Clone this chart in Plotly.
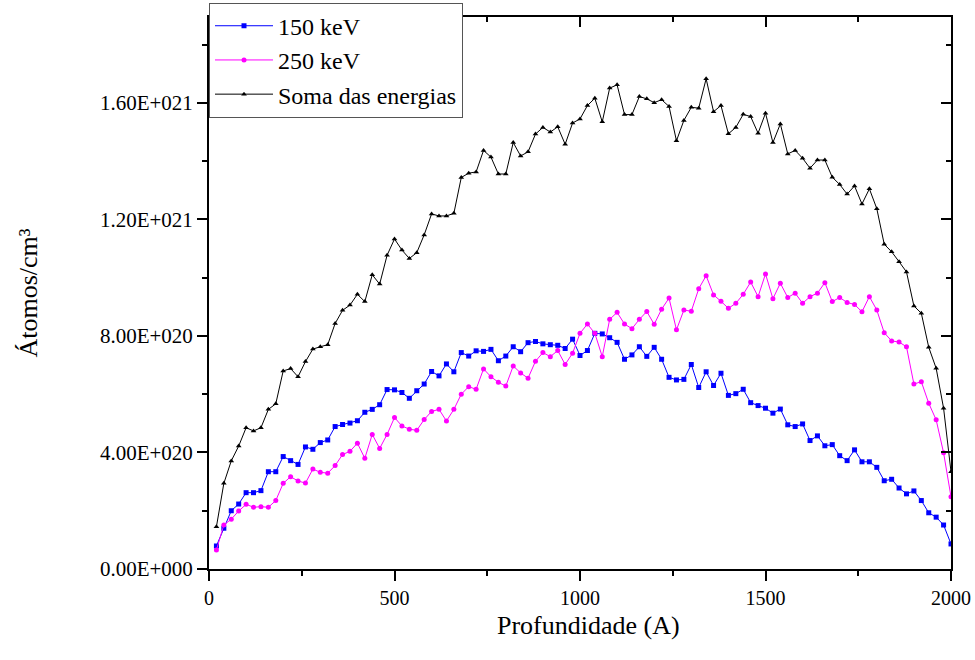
import numpy as np
import plotly.graph_objects as go

# Depth (Angstrom): 20..2000 step 20
depth = list(range(20, 2001, 20))

# values in units of 1E+020 atoms/cm^3
kev150 = [0.79, 1.40, 2.00, 2.23, 2.62, 2.62, 2.69, 3.34, 3.34, 3.86,
          3.72, 3.59, 4.19, 4.11, 4.34, 4.43, 4.89, 4.96, 5.01, 5.09,
          5.38, 5.48, 5.64, 6.16, 6.15, 6.06, 5.86, 6.12, 6.35, 6.78,
          6.63, 7.04, 6.77, 7.43, 7.31, 7.49, 7.47, 7.54, 7.15, 7.31,
          7.63, 7.46, 7.77, 7.81, 7.73, 7.70, 7.68, 7.57, 7.89, 7.33,
          7.50, 8.09, 8.07, 7.94, 7.78, 7.20, 7.35, 7.63, 7.30, 7.61,
          7.20, 6.58, 6.49, 6.51, 7.02, 6.23, 6.77, 6.30, 6.72, 5.96,
          6.02, 6.17, 5.71, 5.61, 5.52, 5.35, 5.49, 4.95, 4.89, 4.98,
          4.41, 4.57, 4.23, 4.27, 3.89, 3.72, 4.09, 3.68, 3.68, 3.49,
          3.03, 3.08, 2.78, 2.58, 2.68, 2.35, 1.93, 1.78, 1.51, 0.86]

kev250 = [0.65, 1.51, 1.71, 1.99, 2.22, 2.12, 2.14, 2.12, 2.35, 2.94,
          3.17, 3.02, 2.95, 3.43, 3.32, 3.29, 3.55, 3.93, 4.04, 4.32,
          3.80, 4.62, 4.14, 4.62, 5.20, 4.91, 4.80, 4.76, 5.13, 5.41,
          5.48, 5.08, 5.48, 6.00, 6.26, 6.17, 6.87, 6.60, 6.41, 6.28,
          6.97, 6.73, 6.55, 7.13, 7.43, 7.29, 7.50, 7.02, 7.41, 8.09,
          8.41, 8.09, 7.29, 8.57, 8.81, 8.41, 8.25, 8.57, 8.84, 8.40,
          8.92, 9.30, 8.21, 8.89, 8.85, 9.62, 10.07, 9.41, 9.19, 8.95,
          9.12, 9.43, 9.85, 9.35, 10.13, 9.28, 9.81, 9.32, 9.47, 9.12,
          9.35, 9.47, 9.83, 9.18, 9.32, 9.15, 9.08, 8.83, 9.35, 8.89,
          8.11, 7.83, 7.79, 7.63, 6.35, 6.43, 5.69, 5.12, 3.99, 2.48]

soma = [1.45, 2.94, 3.71, 4.22, 4.85, 4.74, 4.85, 5.48, 5.67, 6.80,
        6.88, 6.60, 7.12, 7.55, 7.63, 7.70, 8.43, 8.88, 9.06, 9.43,
        9.18, 10.10, 9.78, 10.77, 11.33, 10.95, 10.66, 10.86, 11.47, 12.19,
        12.12, 12.12, 12.21, 13.44, 13.59, 13.63, 14.37, 14.14, 13.56, 13.56,
        14.64, 14.18, 14.32, 14.93, 15.16, 15.00, 15.18, 14.58, 15.31, 15.45,
        15.91, 16.16, 15.35, 16.51, 16.62, 15.60, 15.60, 16.22, 16.14, 16.01,
        16.11, 15.88, 14.70, 15.40, 15.85, 15.82, 16.83, 15.70, 15.91, 14.94,
        15.16, 15.61, 15.53, 14.96, 15.65, 14.64, 15.28, 14.25, 14.37, 14.10,
        13.76, 14.04, 14.04, 13.45, 13.20, 12.87, 13.15, 12.53, 13.05, 12.37,
        11.15, 10.89, 10.55, 10.20, 9.03, 8.78, 7.61, 6.89, 5.52, 3.34]

series_names = ["150 keV", "250 keV", "Soma das energias"]

x_tickvals = [0, 500, 1000, 1500, 2000]
x_minor = [250, 750, 1250, 1750]
y_tickvals = [0, 4e20, 8e20, 1.2e21, 1.6e21]
y_ticktext = ["0.00E+000", "4.00E+020", "8.00E+020", "1.20E+021", "1.60E+021"]
y_minor = [2e20, 6e20, 1e21, 1.4e21, 1.8e21]

X_TITLE = "Profundidade (A)"
Y_TITLE = "Átomos/cm³"

X_RANGE = [0, 2000]
Y_RANGE = [0, 1.895e21]

FONT = "Liberation Serif, Times New Roman, serif"
SCALE = 1e20

fig = go.Figure()
styles = [
    dict(color="#0000FF", symbol="square"),
    dict(color="#FF00FF", symbol="circle"),
    dict(color="#000000", symbol="triangle-up"),
]
for name, vals, st in zip(series_names, [kev150, kev250, soma], styles):
    fig.add_trace(go.Scatter(
        x=depth, y=np.array(vals) * SCALE, name=name, mode="lines+markers",
        line=dict(color=st["color"], width=1),
        marker=dict(color=st["color"], symbol=st["symbol"], size=5),
    ))

# dummy trace for mirrored (inward-tick) top/right axes
fig.add_trace(go.Scatter(x=[None], y=[None], xaxis="x2", yaxis="y2",
                         showlegend=False, hoverinfo="skip"))

axis_common = dict(showgrid=False, zeroline=False, linecolor="black",
                   linewidth=2, tickcolor="black", tickwidth=2,
                   automargin=False)

fig.update_layout(
    width=975, height=660,
    margin=dict(l=209, r=24, t=17, b=91, autoexpand=False),
    paper_bgcolor="white", plot_bgcolor="white",
    font=dict(family=FONT, color="black", size=20),
    showlegend=True,
    legend=dict(x=0.0, y=1.026, xanchor="left", yanchor="top",
                bgcolor="white", bordercolor="#555", borderwidth=1,
                font=dict(family=FONT, size=24), tracegroupgap=0,
                itemwidth=58),
    xaxis=dict(range=X_RANGE, tickmode="array", tickvals=x_tickvals,
               ticks="outside", ticklen=10,
               minor=dict(tickmode="array", tickvals=x_minor, ticks="outside",
                          ticklen=5, tickwidth=2, tickcolor="black"),
               tickfont=dict(family=FONT, size=20),
               **axis_common),
    yaxis=dict(range=Y_RANGE, tickmode="array", tickvals=y_tickvals,
               ticktext=y_ticktext, ticks="outside", ticklen=10,
               minor=dict(tickmode="array", tickvals=y_minor, ticks="outside",
                          ticklen=5, tickwidth=2, tickcolor="black"),
               tickfont=dict(family=FONT, size=21),
               title=dict(text=Y_TITLE, standoff=55,
                          font=dict(family=FONT, size=26)),
               **axis_common),
    xaxis2=dict(range=X_RANGE, overlaying="x", side="top", anchor="y2",
                tickmode="array", tickvals=x_tickvals, ticks="inside",
                ticklen=10, showticklabels=False,
                minor=dict(tickmode="array", tickvals=x_minor, ticks="inside",
                           ticklen=5, tickwidth=2, tickcolor="black"),
                **axis_common),
    yaxis2=dict(range=Y_RANGE, overlaying="y", side="right", anchor="x2",
                tickmode="array", tickvals=y_tickvals, ticks="inside",
                ticklen=10, showticklabels=False,
                minor=dict(tickmode="array", tickvals=y_minor, ticks="inside",
                           ticklen=5, tickwidth=2, tickcolor="black"),
                **axis_common),
    annotations=[dict(text=X_TITLE, xref="paper", yref="paper",
                      x=0.511, y=-0.103, xanchor="center", yanchor="middle",
                      showarrow=False, font=dict(family=FONT, size=26))],
)

fig.write_html("out.html")
